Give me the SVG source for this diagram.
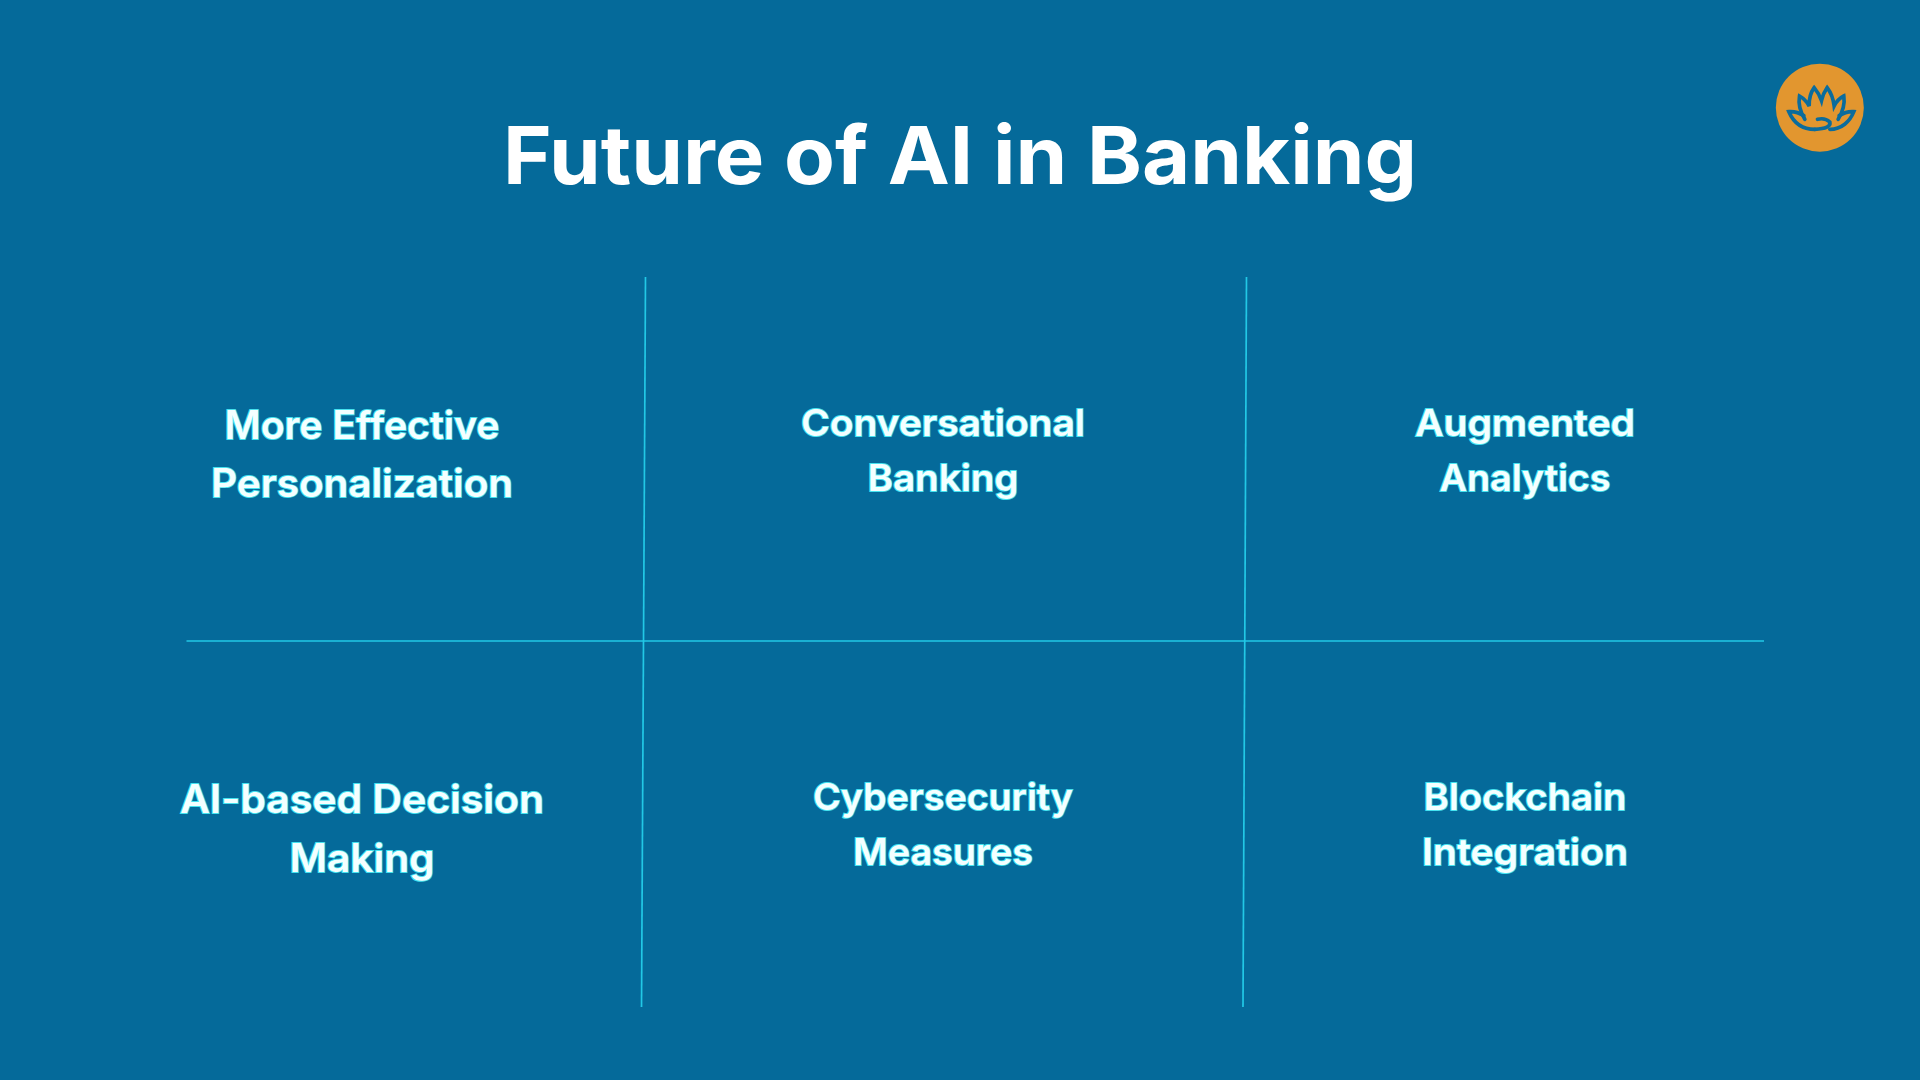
<svg xmlns="http://www.w3.org/2000/svg" width="1920" height="1080" viewBox="0 0 1920 1080">
<style>
text{font-family:"Inter","Noto Sans",sans-serif;text-anchor:middle}
.title{font-size:80px;font-weight:700;fill:#ffffff}
.a,.b{font-weight:600;fill:#f4ffff;stroke:#45e2f0;stroke-width:1.8px;paint-order:stroke}
.a{font-size:39px}
.b{font-size:37px}
.grid line{stroke:#22c8e6;stroke-width:1.7}
.lotus path{fill:none;stroke:#0b6c9c;stroke-width:11;stroke-linejoin:miter;stroke-linecap:round}
</style>
<rect width="1920" height="1080" fill="#056a9a"/>
<g id="title"><text class="title" x="960" y="184" textLength="914" lengthAdjust="spacingAndGlyphs">Future of AI in Banking</text></g>
<g id="logo" class="lotus" transform="translate(1761.5 50) scale(.3333)">
<circle cx="175" cy="173" r="132" fill="#e2962f"/>
<path d="M130,208Q108,172 114,138Q132,148 143,168Q142,135 158,113Q172,130 180,152Q185,130 197,113Q214,135 218,168Q228,148 247,138Q252,172 230,208"/>
<path d="M160,238C120,238 95,215 82,185Q105,183 127,197"/>
<path d="M205,238C240,238 265,215 277,185Q255,183 233,197"/>
<path d="M168,208Q190,202 205,216Q210,236 160,238" stroke-width="7"/>
</g>
<g id="connectors" class="grid">
<line x1="645.5" y1="277" x2="641.5" y2="1007"/>
<line x1="1246.5" y1="277" x2="1243" y2="1007"/>
<line x1="186.5" y1="641" x2="1764" y2="641"/>
</g>
<g id="node-personalization"><text class="a" x="362" y="439" textLength="275" lengthAdjust="spacingAndGlyphs">More Effective</text><text class="a" x="362" y="497" textLength="302" lengthAdjust="spacingAndGlyphs">Personalization</text></g>
<g id="node-conversational"><text class="b" x="943" y="436" textLength="284" lengthAdjust="spacingAndGlyphs">Conversational</text><text class="b" x="943" y="491" textLength="151" lengthAdjust="spacingAndGlyphs">Banking</text></g>
<g id="node-analytics"><text class="b" x="1525" y="436" textLength="220" lengthAdjust="spacingAndGlyphs">Augmented</text><text class="b" x="1525" y="491" textLength="171" lengthAdjust="spacingAndGlyphs">Analytics</text></g>
<g id="node-decision"><text class="a" x="362" y="813" textLength="364" lengthAdjust="spacingAndGlyphs">AI-based Decision</text><text class="a" x="362" y="872" textLength="145" lengthAdjust="spacingAndGlyphs">Making</text></g>
<g id="node-cyber"><text class="b" x="943" y="810" textLength="260" lengthAdjust="spacingAndGlyphs">Cybersecurity</text><text class="b" x="943" y="865" textLength="180" lengthAdjust="spacingAndGlyphs">Measures</text></g>
<g id="node-blockchain"><text class="b" x="1525" y="810" textLength="203" lengthAdjust="spacingAndGlyphs">Blockchain</text><text class="b" x="1525" y="865" textLength="206" lengthAdjust="spacingAndGlyphs">Integration</text></g>
</svg>
